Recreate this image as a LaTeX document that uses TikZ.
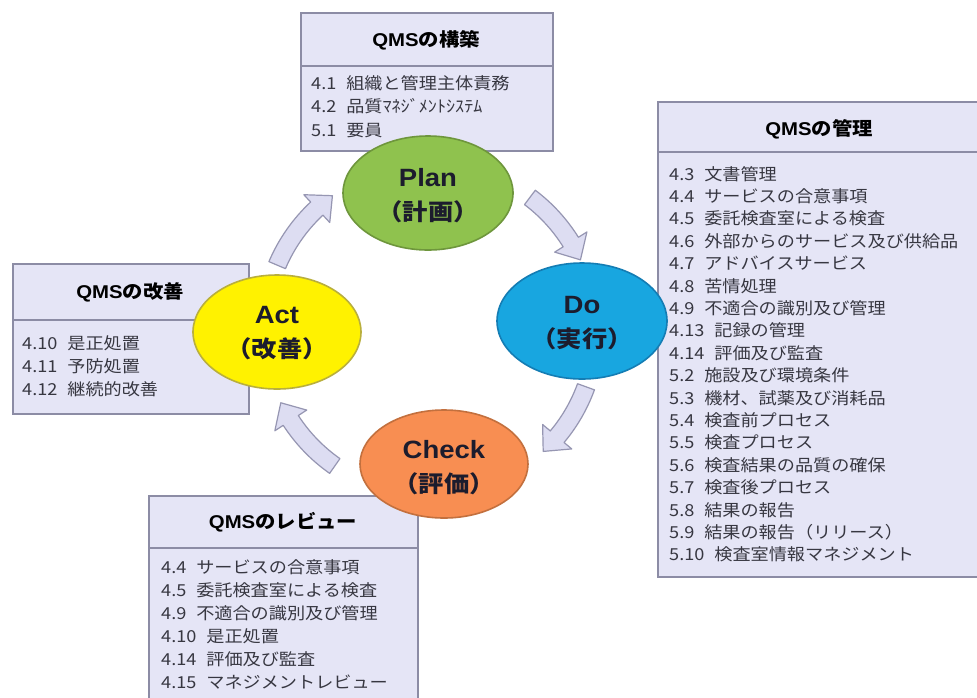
\documentclass[tikz,border=0pt]{standalone}
\usepackage{fontspec}
\setmainfont{Noto Sans CJK JP}[FakeStretch=1.1]
\newfontfamily\latf{Liberation Sans}[FakeStretch=1.1]
\usetikzlibrary{calc,shapes.geometric}
\definecolor{boxfill}{RGB}{229,229,246}
\definecolor{boxline}{RGB}{140,140,165}
\definecolor{arrfill}{RGB}{221,221,242}
\definecolor{arrline}{RGB}{150,150,178}
\definecolor{itmtxt}{RGB}{55,55,65}
\definecolor{lbltxt}{RGB}{28,28,45}
\definecolor{plang}{RGB}{143,194,78}
\definecolor{plangb}{RGB}{110,150,60}
\definecolor{dob}{RGB}{24,166,224}
\definecolor{dobb}{RGB}{20,125,180}
\definecolor{acty}{RGB}{255,242,0}
\definecolor{actyb}{RGB}{185,175,60}
\definecolor{chko}{RGB}{248,142,82}
\definecolor{chkob}{RGB}{195,112,62}
\newcommand{\gp}{\hspace{0.6em}}
\newcommand{\cycarrow}[2]{%
  \pgfmathsetmacro{\am}{#2-7}%
  \draw[arr] ($(C)+(#1:175)$) arc[start angle=#1, end angle=\am, radius=175]
    -- ($(C)+(\am:185)$) -- ($(C)+(#2:166)$) -- ($(C)+(\am:147)$)
    -- ($(C)+(\am:157)$) arc[start angle=\am, end angle=#1, radius=157] -- cycle;}
\tikzset{
  qbox/.style={draw=boxline, fill=boxfill, line width=1.8pt, rectangle, inner sep=0pt},
  qline/.style={draw=boxline, line width=1.8pt},
  ttl/.style={font=\fontsize{18.5}{22}\selectfont\bfseries, text=black, inner sep=0pt},
  itm/.style={font=\fontsize{16.5}{20}\selectfont, text=itmtxt, inner sep=0pt, anchor=base west},
  ell/.style={ellipse, line width=1.6pt, inner sep=0pt},
  elab/.style={align=center, text=lbltxt, inner sep=0pt,
              font=\fontsize{23}{34}\selectfont\bfseries},
  arr/.style={draw=arrline, fill=arrfill, line width=1.2pt, line join=round}
}
\newcommand{\lw}[1]{{\fontsize{25}{34}\selectfont\latf #1}}
\begin{document}
\begin{tikzpicture}[x=1pt, y=-1pt]
\useasboundingbox (0,0) rectangle (977,697);
\clip (0,0) rectangle (977,697);
\fill[white] (0,0) rectangle (977,697);
\coordinate (C) at (430,330);

% Plan box
\node[qbox, minimum width=252pt, minimum height=138pt, anchor=north west] (pb) at (300,12) {};
\draw[qline] ($(pb.north west)+(0,54)$) -- ($(pb.north east)+(0,54)$);
\node[ttl] (pbt) at (426,40) {{\latf QMS}の構築};
\foreach \t [count=\i from 0] in {4.1\gp 組織と管理主体責務, 4.2\gp 品質ﾏﾈｼﾞﾒﾝﾄｼｽﾃﾑ, 5.1\gp 要員}
  \node[itm] (pb\i) at (311, {89+23.5*\i}) {\t};

% Act box
\node[qbox, minimum width=236pt, minimum height=150pt, anchor=north west] (ab) at (12,263) {};
\draw[qline] ($(ab.north west)+(0,57)$) -- ($(ab.north east)+(0,57)$);
\node[ttl] (abt) at (130,292) {{\latf QMS}の改善};
\foreach \t [count=\i from 0] in {4.10\gp 是正処置, 4.11\gp 予防処置, 4.12\gp 継続的改善}
  \node[itm] (ab\i) at (22, {349+23*\i}) {\t};

% Check box
\node[qbox, minimum width=269pt, minimum height=230pt, anchor=north west] (cb) at (148,495) {};
\draw[qline] ($(cb.north west)+(0,53)$) -- ($(cb.north east)+(0,53)$);
\node[ttl] (cbt) at (283,522) {{\latf QMS}のレビュー};
\foreach \t [count=\i from 0] in {4.4\gp サービスの合意事項, 4.5\gp 委託検査室による検査, 4.9\gp 不適合の識別及び管理, 4.10\gp 是正処置, 4.14\gp 評価及び監査, 4.15\gp マネジメントレビュー}
  \node[itm] (cb\i) at (161, {573+23*\i}) {\t};

% Do box
\node[qbox, minimum width=326pt, minimum height=475pt, anchor=north west] (db) at (657,101) {};
\draw[qline] ($(db.north west)+(0,51)$) -- ($(db.north east)+(0,51)$);
\node[ttl] (dbt) at (819,129) {{\latf QMS}の管理};
\foreach \t [count=\i from 0] in {4.3\gp 文書管理, 4.4\gp サービスの合意事項, 4.5\gp 委託検査室による検査, 4.6\gp 外部からのサービス及び供給品, 4.7\gp アドバイスサービス, 4.8\gp 苦情処理, 4.9\gp 不適合の識別及び管理, 4.13\gp 記録の管理, 4.14\gp 評価及び監査, 5.2\gp 施設及び環境条件, 5.3\gp 機材、試薬及び消耗品, 5.4\gp 検査前プロセス, 5.5\gp 検査プロセス, 5.6\gp 検査結果の品質の確保, 5.7\gp 検査後プロセス, 5.8\gp 結果の報告, 5.9\gp 結果の報告（リリース）, 5.10\gp 検査室情報マネジメント}
  \node[itm] (db\i) at (669, {180+22.4*\i}) {\t};

% cycle arrows
\cycarrow{203}{234}
\cycarrow{307}{335}
\cycarrow{20}{47}
\cycarrow{125}{154}

% ellipses
\node[ell, fill=plang, draw=plangb, minimum width=170pt, minimum height=114pt] (plan) at (428,193) {};
\node[ell, fill=dob, draw=dobb, minimum width=170pt, minimum height=116pt] (do) at (582,321) {};
\node[ell, fill=acty, draw=actyb, minimum width=168pt, minimum height=114pt] (act) at (277,332) {};
\node[ell, fill=chko, draw=chkob, minimum width=168pt, minimum height=108pt] (check) at (444,464) {};
\node[elab] (planl) at (428,196) {\lw{Plan}\\（計画）};
\node[elab] (dol) at (582,323) {\lw{Do}\\（実行）};
\node[elab] (actl) at (277,333) {\lw{Act}\\（改善）};
\node[elab] (checkl) at (444,468) {\lw{Check}\\（評価）};
\end{tikzpicture}
\end{document}
